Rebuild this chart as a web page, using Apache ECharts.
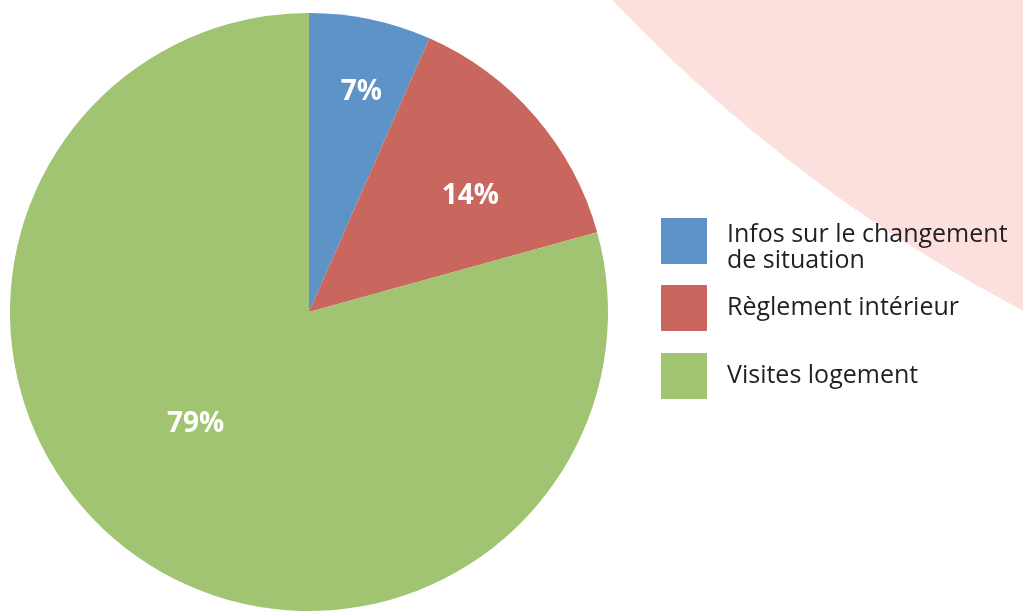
<!DOCTYPE html>
<html>
<head>
<meta charset="utf-8">
<script src="https://cdn.jsdelivr.net/npm/echarts@6/dist/echarts.min.js"></script>
<style>
  html, body { margin: 0; padding: 0; background: #fff; }
  #chart { width: 1023px; height: 612px; }
</style>
</head>
<body>
<div id="chart"></div>
<script>
// données du graphique
const categories = ['Infos sur le changement\nde situation', 'Règlement intérieur', 'Visites logement'];
const values = [6.6, 14.1, 79.3];
const colors = ['#5d93c6', '#c9675f', '#a1c473'];
// décalage des étiquettes par rapport au milieu de la part
const labelOffsets = [[21, -71], [46, -16], [-21, -9]];

const chart = echarts.init(document.getElementById('chart'));

// style commun des légendes
function legendBase(extra) {
  return Object.assign({
    orient: 'vertical',
    left: 661,
    padding: 0,
    itemWidth: 46,
    itemHeight: 46,
    icon: 'rect',
    selectedMode: false
  }, extra);
}

chart.setOption({
  backgroundColor: '#fff',
  animation: false,
  // grand disque rose décoratif en haut à droite
  graphic: [{
    type: 'circle',
    z: 0,
    silent: true,
    shape: { cx: 1736, cy: -1059, r: 1544 },
    style: { fill: '#fce0dd' }
  }],
  legend: [
    // premier item sur deux lignes, placé à part (une ligne vide pour le descendre)
    legendBase({
      top: 213,
      data: [categories[0]],
      formatter: name => '{s| }\n{a|' + name + '}',
      textStyle: {
        color: '#231f20',
        padding: [0, 0, 0, 15],
        rich: {
          s: { fontSize: 4, lineHeight: 14 },
          a: { fontFamily: 'Open Sans', fontSize: 25, lineHeight: 26, color: '#231f20' }
        }
      }
    }),
    legendBase({
      top: 285,
      itemGap: 22,
      data: categories.slice(1),
      textStyle: {
        fontFamily: 'Open Sans', fontSize: 25, lineHeight: 25,
        color: '#231f20', padding: [0, 0, 0, 15]
      }
    })
  ],
  series: [{
    type: 'pie',
    center: [309, 312],
    radius: 299,
    startAngle: 90,
    clockwise: true,
    percentPrecision: 0,
    itemStyle: { borderWidth: 0 },
    label: {
      show: true,
      position: 'inside',
      formatter: '{d}%',
      color: '#fff',
      fontFamily: 'Open Sans',
      fontWeight: 'bold',
      fontSize: 28
    },
    labelLine: { show: false },
    emphasis: { disabled: true },
    data: categories.map((name, i) => ({
      name: name,
      value: values[i],
      itemStyle: { color: colors[i] },
      label: { offset: labelOffsets[i] }
    }))
  }]
});
</script>
</body>
</html>
